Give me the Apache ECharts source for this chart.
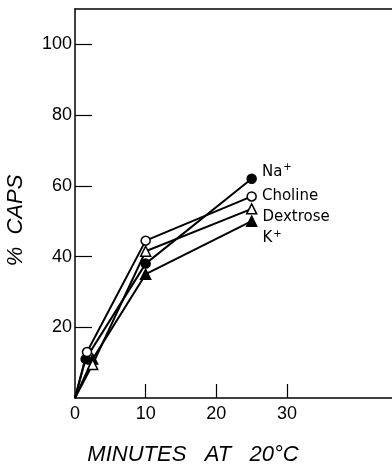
<!DOCTYPE html>
<html><head><meta charset="utf-8">
<script src="https://cdn.jsdelivr.net/npm/echarts@6/dist/echarts.min.js"></script>
<style>html,body{margin:0;padding:0;background:#fff}#c{width:392px;height:466px}</style>
</head><body><div id="c"></div>
<script>
var seriesNames = ['Na+', 'Choline', 'Dextrose', 'K+'];
var naData = [[0, 0], [1.5, 11], [10, 38], [25, 62]];
var cholineData = [[0, 0], [1.7, 13], [10, 44.5], [25, 57]];
var dextroseData = [[0, 0], [2.5, 9.5], [10, 41.5], [25, 53.5]];
var kData = [[0, 0], [2.5, 11], [10, 35], [25, 50]];
var xTickLabels = [0, 10, 20, 30];
var yTickLabels = [20, 40, 60, 80, 100];

var FONT = 'DejaVu Sans';
var TFONT = 'Liberation Sans';
var rich = {
  b: {fontFamily: FONT, fontSize: 15, color: '#000'},
  s: {fontFamily: FONT, fontSize: 10, color: '#000', verticalAlign: 'top', padding: [0, 0, 8, 1]}
};
function mk(name, data, symbol, filled, labelText, off) {
  var d = data.map(function (p, i) {
    var o = {value: p};
    if (i === 0) { o.symbol = 'none'; }
    if (i === data.length - 1) {
      o.label = {show: true, position: 'right', distance: 5, offset: off, formatter: labelText, rich: rich};
    }
    return o;
  });
  return {
    name: name, type: 'line', data: d, symbol: symbol, symbolSize: symbol === 'circle' ? 9 : 10,
    lineStyle: {color: '#000', width: 2},
    itemStyle: {color: filled ? '#000' : '#fff', borderColor: '#000', borderWidth: 1.5},
    label: {show: false}, animation: false, z: filled ? 3 : 4
  };
}
var chart = echarts.init(document.getElementById('c'), null, {renderer: 'canvas'});
chart.setOption({
  backgroundColor: '#fff',
  animation: false,
  grid: {left: 75, top: 9, right: -1, bottom: 68, show: false, containLabel: false, outerBoundsMode: 'none'},
  xAxis: [{
    type: 'value', min: 0, max: 45,
    name: 'MINUTES   AT   20°C', nameLocation: 'middle', nameGap: 46,
    nameTextStyle: {fontFamily: TFONT, fontSize: 22, fontStyle: 'italic', color: '#000', padding: [0, 82, 0, 0]},
    axisLine: {lineStyle: {color: '#000', width: 1.5}},
    axisTick: {inside: true, length: 14, lineStyle: {color: '#000', width: 1.2}, customValues: [10, 20, 30]},
    axisLabel: {fontFamily: TFONT, fontSize: 18, color: '#000', margin: 7, customValues: xTickLabels},
    splitLine: {show: false}
  }, {
    type: 'value', min: 0, max: 45, position: 'top',
    axisLine: {show: true, lineStyle: {color: '#000', width: 1.5}},
    axisTick: {show: false}, axisLabel: {show: false}, splitLine: {show: false}
  }],
  yAxis: {
    type: 'value', min: 0, max: 110,
    name: '%  CAPS', nameLocation: 'middle', nameGap: 48, nameRotate: 90,
    nameTextStyle: {fontFamily: TFONT, fontSize: 22, fontStyle: 'italic', color: '#000', padding: [0, 34, 0, 0]},
    axisLine: {lineStyle: {color: '#000', width: 1.5}},
    axisTick: {inside: true, length: 17, lineStyle: {color: '#000', width: 1.2}, customValues: yTickLabels},
    axisLabel: {fontFamily: TFONT, fontSize: 18, color: '#000', margin: 3, customValues: yTickLabels},
    splitLine: {show: false}
  },
  series: [
    mk(seriesNames[0], naData, 'circle', true, '{b|Na}{s|+}', [0, -7]),
    mk(seriesNames[1], cholineData, 'circle', false, '{b|Choline}', [0, 0]),
    mk(seriesNames[2], dextroseData, 'triangle', false, '{b|Dextrose}', [0, 8]),
    mk(seriesNames[3], kData, 'triangle', true, '{b|K}{s|+}', [0, 17])
  ]
});
</script></body></html>
